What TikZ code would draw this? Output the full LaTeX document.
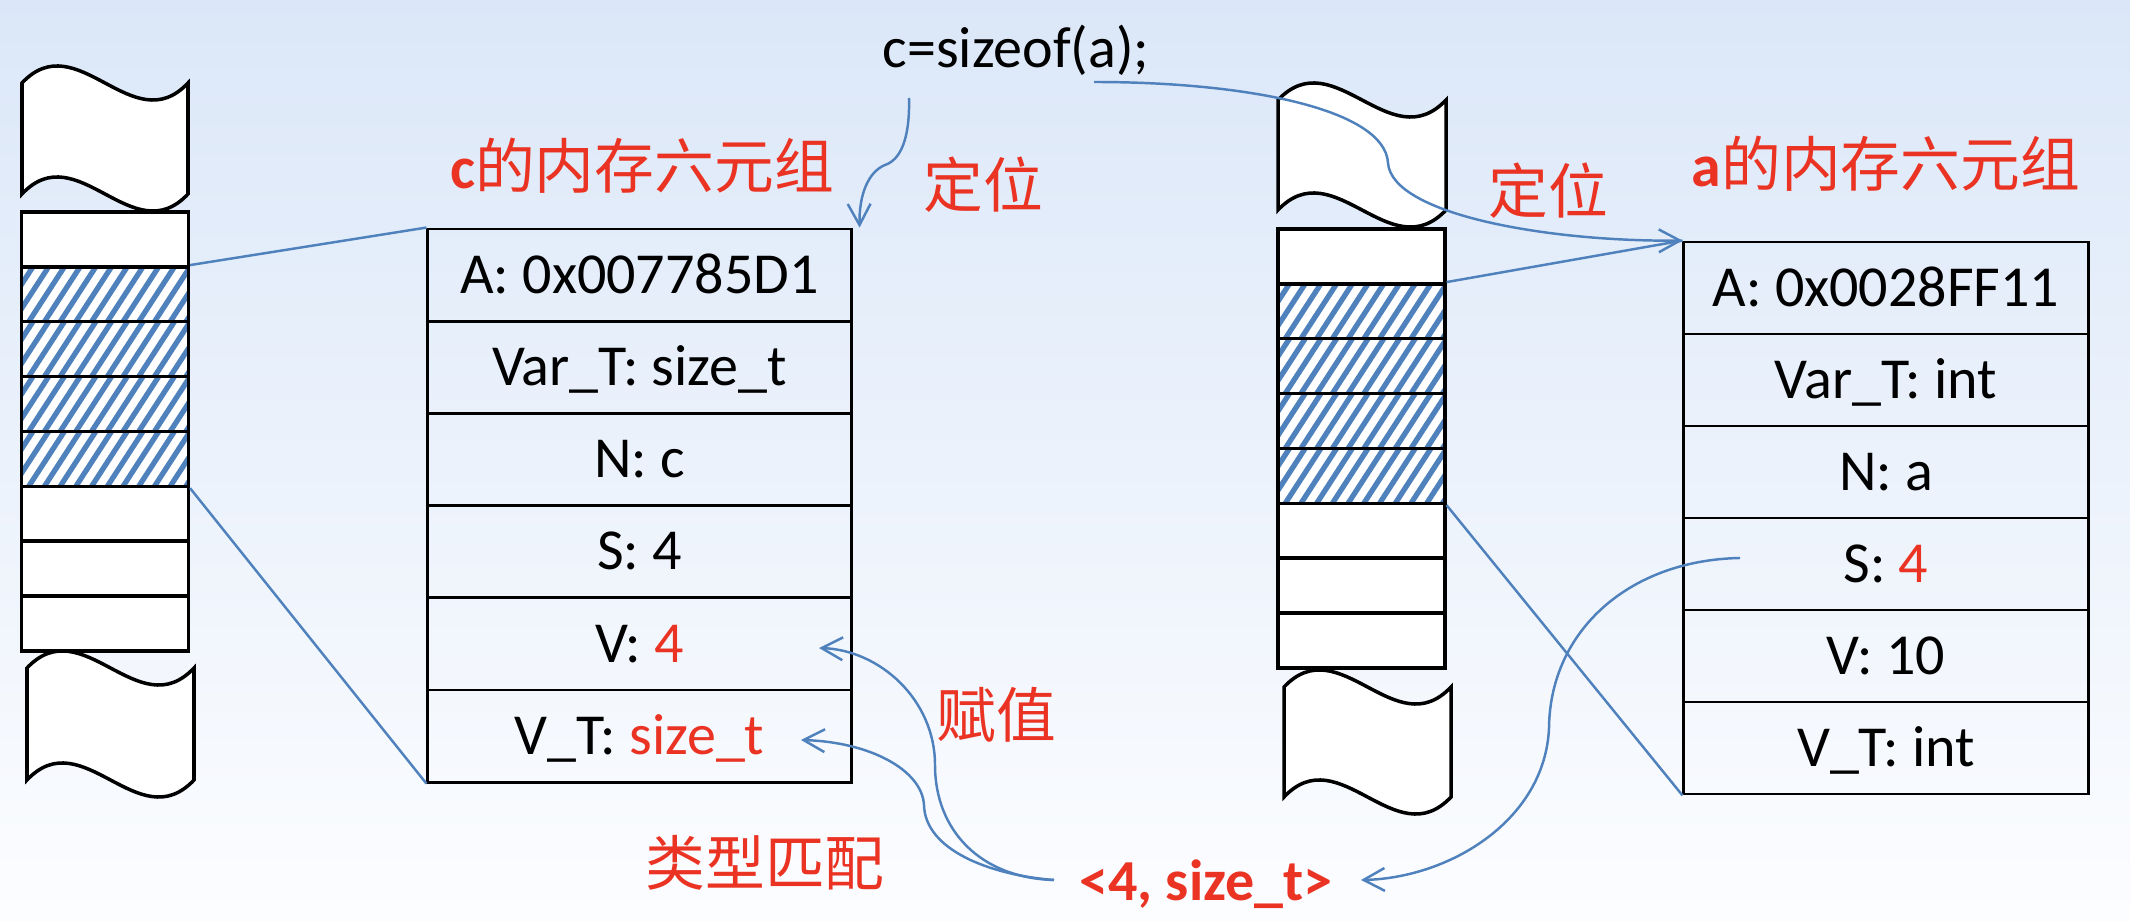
\documentclass[tikz,border=0pt]{standalone}
\usepackage{fontspec}
\setmainfont{Carlito}
\newfontfamily\cjk{Noto Sans CJK SC}
\usetikzlibrary{arrows.meta}
\definecolor{myred}{RGB}{234,51,35}
\definecolor{myblue}{RGB}{79,129,189}
\definecolor{bgtop}{RGB}{219,231,248}
\definecolor{bgbot}{RGB}{252,253,255}
\newcommand\tapeshape[4]{%
  \pgfmathsetmacro\tA{#1+(#2-#1)/3}%
  \pgfmathsetmacro\tB{#1+2*(#2-#1)/3}%
  \draw[line width=1pt, fill=white] (#1,#3) .. controls (\tA,#3-59) and (\tB,#3+59) .. (#2,#3)
    -- (#2,#4) .. controls (\tB,#4+59) and (\tA,#4-59) .. (#1,#4) -- cycle;}
\begin{document}
\begin{tikzpicture}[x=0.01cm,y=-0.01cm,
  txt/.style={font=\fontsize{16.5}{19.8}\selectfont, inner sep=0pt},
  cjktxt/.style={font=\cjk\fontsize{17}{20}\selectfont, inner sep=0pt, text=myred},
  rowbox/.style={draw=black, line width=0.8pt, inner sep=0pt,
     font=\fontsize{16.5}{19.8}\selectfont, text height=10.4pt, text depth=0pt},
  lrow/.style={rowbox, minimum width=4.23cm, minimum height=0.922cm},
  rrow/.style={rowbox, minimum width=4.04cm, minimum height=0.92cm},
  cell/.style={draw=black, line width=1pt, inner sep=0pt, fill=white,
     minimum width=1.665cm, minimum height=0.549cm},
  hatchcell/.style={cell, path picture={
     \foreach \k in {-8,...,6}
       \draw[myblue, line width=1.5pt]
         ([xshift=\k*4.47pt, yshift=-1pt]path picture bounding box.south) -- ++(57:21pt);}},
  conn/.style={draw=myblue, line width=0.7pt},
  arr/.style={conn, -{Straight Barb[length=6pt,width=6.5pt]}}
]
\useasboundingbox (0,0) rectangle (2130,922);
\shade[top color=bgtop, bottom color=bgbot] (0,0) rectangle (2130,922);

% memory columns
\tapeshape{22}{188}{83}{194}
\tapeshape{27}{194}{668}{780}
\tapeshape{1278}{1446}{100}{210}
\tapeshape{1284}{1451}{687}{797}
\foreach \i in {1,6,7,8} {
  \node[cell] (l\i) at (105,{239.44+54.875*(\i-1)}) {};
  \node[cell] (m\i) at (1361.5,{256.44+54.875*(\i-1)}) {};
}
\foreach \i in {2,3,4,5} {
  \node[hatchcell] (l\i) at (105,{239.44+54.875*(\i-1)}) {};
  \node[hatchcell] (m\i) at (1361.5,{256.44+54.875*(\i-1)}) {};
}

% c six-tuple
\node[lrow] (c1) at (639.5,275.1) {A: 0x007785D1};
\node[lrow] (c2) at (639.5,367.3) {Var\_T: size\_t};
\node[lrow] (c3) at (639.5,459.5) {N: c};
\node[lrow] (c4) at (639.5,551.7) {S: 4};
\node[lrow] (c5) at (639.5,643.9) {V: \textcolor{myred}{4}};
\node[lrow] (c6) at (639.5,736.1) {V\_T: \textcolor{myred}{size\_t}};

% a six-tuple
\node[rrow] (a1) at (1886,288) {A: 0x0028FF11};
\node[rrow] (a2) at (1886,380) {Var\_T: int};
\node[rrow] (a3) at (1886,472) {N: a};
\node[rrow] (a4) at (1886,564) {S: \textcolor{myred}{4}};
\node[rrow] (a5) at (1886,656) {V: 10};
\node[rrow] (a6) at (1886,748) {V\_T: int};

% texts
\node[txt, anchor=base] (code) at (1016,68) {c=sizeof(a);};
\node[cjktxt] (hc) at (642,166) {{\rmfamily\bfseries c}的内存六元组};
\node[cjktxt] (ha) at (1886,164) {{\rmfamily\bfseries a}的内存六元组};
\node[cjktxt] (loc1) at (983,185) {定位};
\node[cjktxt] (loc2) at (1548,191) {定位};
\node[cjktxt] (asg) at (996,715) {赋值};
\node[cjktxt] (tm) at (765,863) {类型匹配};
\node[txt, anchor=base, text=myred, font=\fontsize{16.5}{19.8}\selectfont\bfseries] (pair) at (1206,900) {<4, size\_t>};

% connector end points
\coordinate (s1) at (909,98);
\coordinate (s2) at (1094,82);
\coordinate (s3) at (1740,558);
\coordinate (p0) at (1054,880);
\coordinate (p1) at (1361,880);
\coordinate (v1) at (819,648);
\coordinate (v2) at (801,740);

% straight connectors
\draw[conn] (l2.north east) -- (c1.north west);
\draw[conn] (l5.south east) -- (c6.south west);
\draw[conn] (m2.north east) -- (a1.north west);
\draw[conn] (m5.south east) -- (a6.south west);

% curved arrows
\draw[arr] (s1) .. controls (910,140) and (900,160) .. (885,165)
  .. controls (868,172) and (859,195) .. ([xshift=2pt]c1.north east);
\draw[arr] (s2) .. controls (1250,82) and (1385,110) .. (1388,163)
  .. controls (1392,215) and (1550,242) .. (a1.north west);
\draw[arr] (p0) .. controls (980,878) and (935,830) .. (935,765)
  .. controls (935,700) and (880,650) .. (v1);
\draw[arr] (p0) .. controls (990,875) and (925,850) .. (924,805)
  .. controls (922,770) and (870,742) .. (v2);
\draw[arr] (s3) .. controls (1630,560) and (1550,630) .. (1549,728)
  .. controls (1545,820) and (1450,878) .. (p1);
\end{tikzpicture}
\end{document}
